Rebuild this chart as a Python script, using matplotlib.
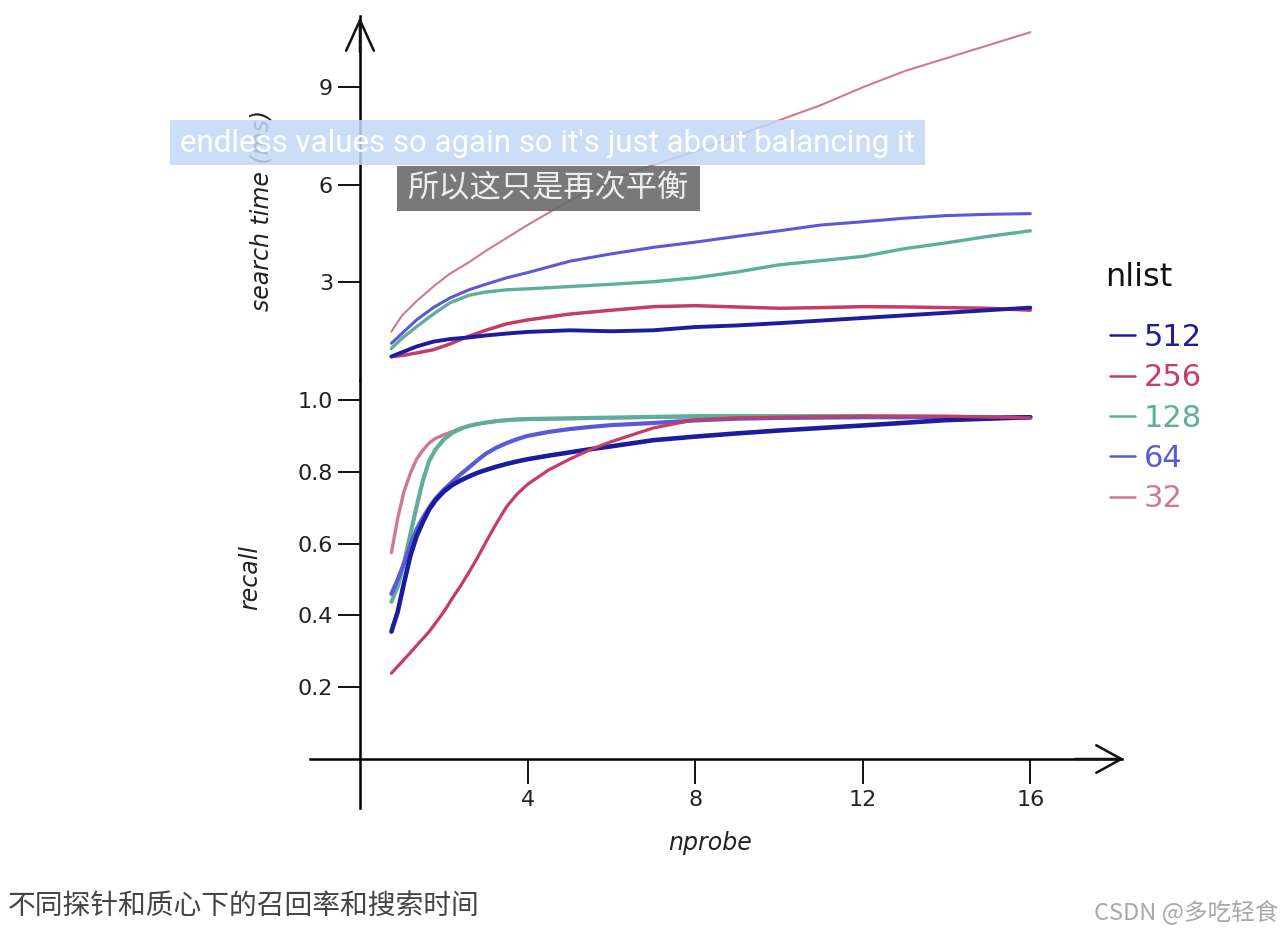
import matplotlib
matplotlib.use("Agg")
import matplotlib.pyplot as plt
from matplotlib.patches import Rectangle

W, H = 1284, 934

nprobe_top = [0.75, 1.0, 1.35, 1.75, 2.15, 2.6, 3.0, 3.5, 4.0, 5.0, 6.0, 7.0,
              8.0, 9.0, 10.0, 11.0, 12.0, 13.0, 14.0, 15.0, 16.0]
time_512 = [0.69, 0.82, 1.0, 1.15, 1.23, 1.28, 1.34, 1.4, 1.45, 1.5, 1.47, 1.5,
            1.6, 1.65, 1.72, 1.8, 1.88, 1.96, 2.04, 2.12, 2.2]
time_256 = [0.69, 0.72, 0.8, 0.9, 1.08, 1.32, 1.5, 1.7, 1.82, 2.0, 2.12, 2.23,
            2.26, 2.22, 2.18, 2.2, 2.23, 2.22, 2.2, 2.18, 2.12]
time_128 = [0.94, 1.25, 1.61, 2.0, 2.35, 2.58, 2.68, 2.75, 2.78, 2.85, 2.92, 3.0,
            3.12, 3.3, 3.52, 3.65, 3.78, 4.02, 4.2, 4.4, 4.57]
time_64 = [1.1, 1.4, 1.82, 2.2, 2.5, 2.75, 2.92, 3.12, 3.28, 3.63, 3.86, 4.06,
           4.22, 4.4, 4.57, 4.75, 4.85, 4.96, 5.04, 5.08, 5.1]
time_32 = [1.46, 1.95, 2.4, 2.85, 3.25, 3.6, 3.95, 4.35, 4.75, 5.5, 6.15, 6.6,
           7.02, 7.5, 7.98, 8.45, 9.0, 9.5, 9.9, 10.3, 10.7]

nprobe_bot = [0.75, 0.9, 1.05, 1.2, 1.35, 1.5, 1.65, 1.8, 2.0, 2.2, 2.4, 2.6, 2.8,
              3.0, 3.25, 3.5, 3.75, 4.0, 4.5, 5.0, 5.5, 6.0, 7.0, 8.0, 9.0, 10.0,
              12.0, 14.0, 16.0]
recall_512 = [0.355, 0.41, 0.49, 0.565, 0.62, 0.66, 0.695, 0.72, 0.745, 0.763, 0.776,
              0.787, 0.797, 0.805, 0.814, 0.822, 0.829, 0.835, 0.845, 0.854, 0.863,
              0.871, 0.888, 0.898, 0.907, 0.915, 0.929, 0.944, 0.952]
recall_256 = [0.239, 0.258, 0.277, 0.296, 0.316, 0.335, 0.355, 0.378, 0.41, 0.447,
              0.482, 0.52, 0.56, 0.603, 0.655, 0.703, 0.738, 0.765, 0.805, 0.835,
              0.862, 0.884, 0.922, 0.945, 0.95, 0.952, 0.955, 0.955, 0.95]
recall_128 = [0.438, 0.48, 0.545, 0.625, 0.703, 0.775, 0.83, 0.862, 0.89, 0.908,
              0.92, 0.928, 0.933, 0.937, 0.941, 0.944, 0.946, 0.947, 0.948, 0.949,
              0.95, 0.951, 0.953, 0.955, 0.955, 0.955, 0.955, 0.953, 0.952]
recall_64 = [0.46, 0.5, 0.545, 0.595, 0.64, 0.672, 0.7, 0.725, 0.75, 0.772, 0.793,
             0.812, 0.832, 0.85, 0.867, 0.88, 0.891, 0.9, 0.911, 0.919, 0.925,
             0.93, 0.936, 0.943, 0.948, 0.95, 0.952, 0.952, 0.952]
recall_32 = [0.575, 0.67, 0.745, 0.795, 0.835, 0.86, 0.88, 0.893, 0.903, 0.912,
             0.921, 0.928, 0.933, 0.937, 0.941, 0.943, 0.945, 0.946, 0.947, 0.948,
             0.949, 0.95, 0.952, 0.953, 0.953, 0.953, 0.953, 0.952, 0.95]

nlist_labels = ["512", "256", "128", "64", "32"]
colors = {"512": "#1c1c9c", "256": "#c43d66", "128": "#5fae9c",
          "64": "#5a5ad6", "32": "#d07892"}

x_ticks = [4, 8, 12, 16]
time_ticks = [3, 6, 9]
recall_ticks = [0.2, 0.4, 0.6, 0.8, 1.0]

caption = "不同探针和质心下的召回率和搜索时间"
watermark = "CSDN @多吃轻食"
sub_en = "endless values so again so it's just about balancing it"
sub_zh = "所以这只是再次平衡"

CJK = ["Noto Sans CJK SC", "DejaVu Sans"]


def fx(px):
    return px / W


def fy(py):
    return 1 - py / H


fig = plt.figure(figsize=(W / 100, H / 100), dpi=100)

ax_bot = fig.add_axes([fx(300), fy(810), fx(830), 430 / H])
ax_top = fig.add_axes([fx(300), fy(380), fx(830), 370 / H])

xlim = (-1.432, 18.38)
for ax in (ax_bot, ax_top):
    ax.set_xlim(*xlim)
    ax.patch.set_alpha(0)
    for s in ("top", "right"):
        ax.spines[s].set_visible(False)
    ax.spines["left"].set_position(("data", 0))
    ax.spines["left"].set_linewidth(1.8)
    ax.tick_params(axis="both", direction="out", width=1.4, labelsize=16,
                   color="#111111", labelcolor="#222222")

# bottom panel: recall
ax_bot.set_ylim(-0.142, 1.0557)
ax_bot.spines["bottom"].set_position(("data", 0))
ax_bot.spines["bottom"].set_linewidth(1.8)
ax_bot.spines["bottom"].set_bounds(-1.2, 18.2)
ax_bot.spines["left"].set_bounds(-0.136, 1.0557)
ax_bot.set_xticks(x_ticks)
ax_bot.set_xticklabels([str(t) for t in x_ticks])
ax_bot.set_yticks(recall_ticks)
ax_bot.set_yticklabels(["%.1f" % t for t in recall_ticks])
ax_bot.tick_params(axis="x", length=18, pad=4)
ax_bot.tick_params(axis="y", length=16, pad=3.5)
ax_bot.annotate("", xy=(18.3, 0), xytext=(17.0, 0),
                arrowprops=dict(arrowstyle="->,head_length=1.0,head_width=0.55",
                                lw=1.8, color="#111111", mutation_scale=18),
                annotation_clip=False)

bot_lines = {}
bot_w = {"32": 2.4, "128": 3.0, "64": 3.0, "512": 3.3, "256": 2.3}
bot_data = {"512": recall_512, "256": recall_256, "128": recall_128,
            "64": recall_64, "32": recall_32}
for key in ["32", "128", "64", "512", "256"]:
    ln, = ax_bot.plot(nprobe_bot, bot_data[key], color=colors[key], lw=bot_w[key],
                      solid_capstyle="round", solid_joinstyle="round", label=key)
    bot_lines[key] = ln

# top panel: search time
ax_top.set_ylim(-0.034, 11.386)
ax_top.spines["bottom"].set_visible(False)
ax_top.spines["left"].set_bounds(-0.034, 11.2)
ax_top.set_xticks([])
ax_top.set_yticks(time_ticks)
ax_top.set_yticklabels([str(t) for t in time_ticks])
ax_top.tick_params(axis="y", length=16, pad=3.5)
ax_top.annotate("", xy=(0, 11.25), xytext=(0, 10.0),
                arrowprops=dict(arrowstyle="->,head_length=1.1,head_width=0.5",
                                lw=1.8, color="#111111", mutation_scale=20),
                annotation_clip=False)

top_w = {"32": 1.5, "128": 2.4, "64": 2.2, "512": 2.8, "256": 2.5}
top_data = {"512": time_512, "256": time_256, "128": time_128,
            "64": time_64, "32": time_32}
for key in ["32", "128", "64", "256", "512"]:
    ax_top.plot(nprobe_top, top_data[key], color=colors[key], lw=top_w[key],
                solid_capstyle="round", solid_joinstyle="round")

# axis labels
ax_top.set_ylabel("search time (ms)", fontsize=17, fontstyle="italic",
                  color="#222222", va="center")
ax_top.yaxis.set_label_coords((262 - 300) / 830, (380 - 210) / 370)
ax_bot.set_ylabel("recall", fontsize=17, fontstyle="italic",
                  color="#222222", va="center")
ax_bot.yaxis.set_label_coords((250 - 300) / 830, (810 - 577) / 430)
ax_bot.set_xlabel("nprobe", fontsize=17, fontstyle="italic",
                  color="#222222", va="center")
ax_bot.xaxis.set_label_coords((710 - 300) / 830, (810 - 843) / 430)

# legend
fig.text(fx(1105), fy(277), "nlist", fontsize=23, color="#111111",
         ha="left", va="center")
leg = fig.legend([bot_lines[k] for k in nlist_labels], nlist_labels,
                 loc="upper left", bbox_to_anchor=(fx(1110), fy(323)),
                 frameon=False, fontsize=22, labelcolor="linecolor",
                 handlelength=0.82, handletextpad=0.28, labelspacing=0.37,
                 borderpad=0, borderaxespad=0)
for h in leg.legend_handles:
    h.set_linewidth(1.8)

# subtitle overlays
fig.add_artist(Rectangle((fx(170), fy(165)), fx(755), 45 / H,
                         transform=fig.transFigure, facecolor="#c4d8f6",
                         alpha=0.85, edgecolor="none", zorder=5))
fig.text(fx(547), fy(143), sub_en, fontsize=22.5, family="Roboto",
         color="white", ha="center", va="center", zorder=6)
fig.add_artist(Rectangle((fx(397), fy(211)), fx(303), 45 / H,
                         transform=fig.transFigure, facecolor="#6a6a6a",
                         alpha=0.9, edgecolor="none", zorder=5))
fig.text(fx(548), fy(188), sub_zh, fontsize=22.5, family=CJK,
         color="#eeeeee", ha="center", va="center", zorder=6)

# caption and watermark
fig.text(fx(8), fy(906), caption, fontsize=20, family=CJK,
         color="#444444", ha="left", va="center")
fig.text(fx(1278), fy(912), watermark, fontsize=17, family=CJK,
         color="#a8a8a8", ha="right", va="center")

fig.savefig("out.png", dpi=100)
